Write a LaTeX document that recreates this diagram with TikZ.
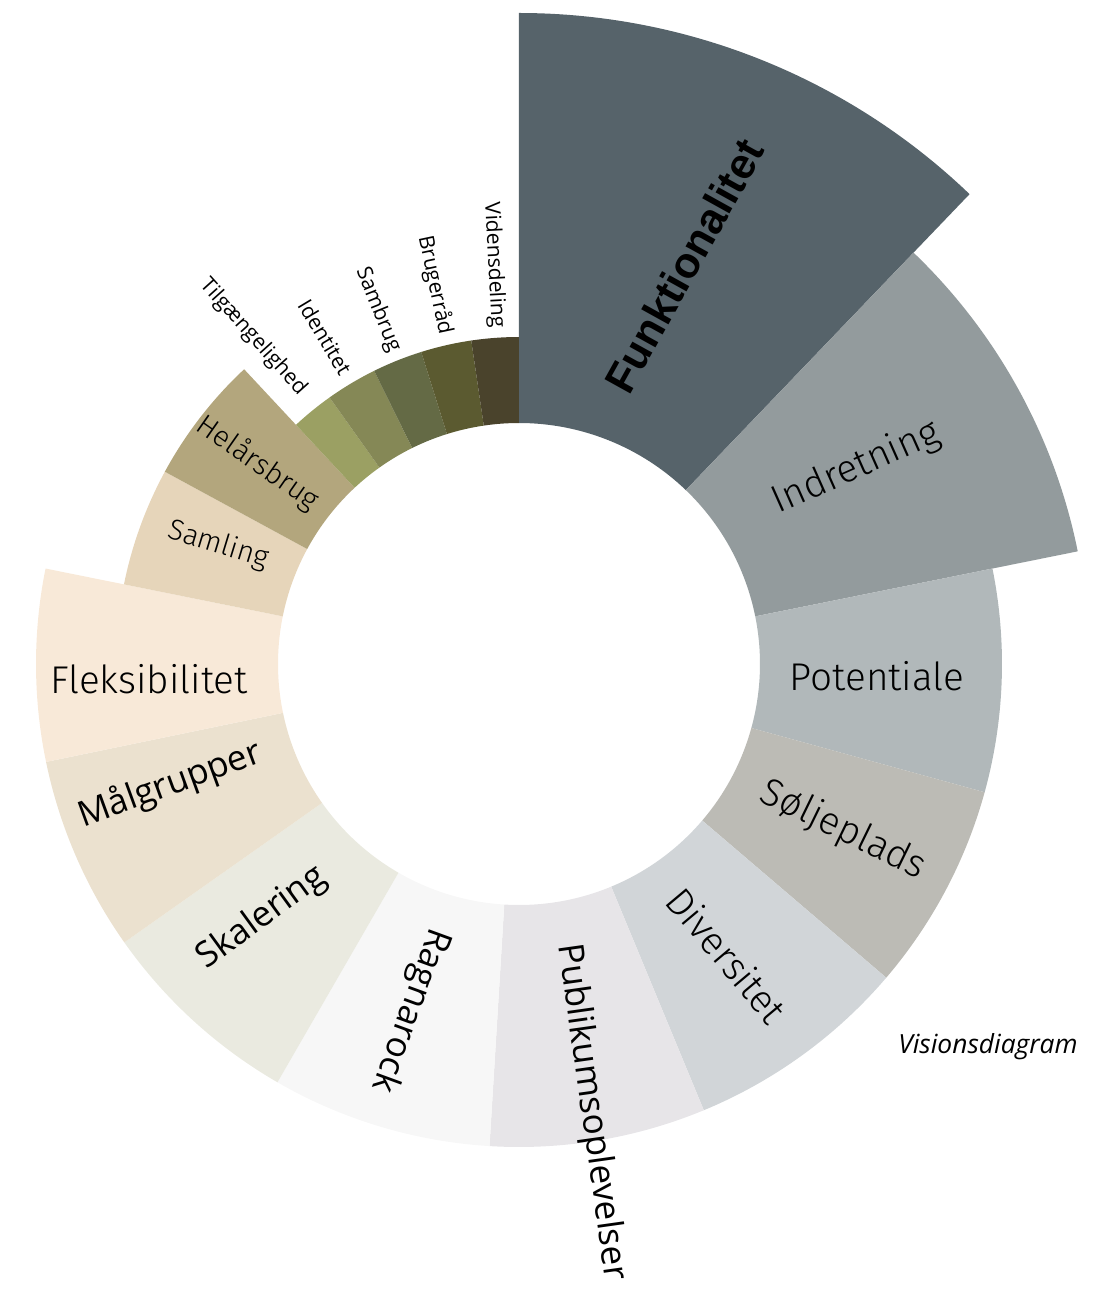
\documentclass[tikz,border=0pt]{standalone}
\usepackage{fontspec}
\usepackage{xcolor}
\usepackage{tikz}
\usetikzlibrary{positioning}

\setmainfont{Fira Sans Light}
\newfontfamily\opensans{Open Sans}
\newfontfamily\arialfont{Liberation Sans}

\definecolor{funkcol}{HTML}{56636A}
\definecolor{indrcol}{HTML}{939B9D}
\definecolor{potecol}{HTML}{B1B8BA}
\definecolor{soljcol}{HTML}{BCBBB5}
\definecolor{divecol}{HTML}{D1D5D8}
\definecolor{publcol}{HTML}{E7E5E8}
\definecolor{ragncol}{HTML}{F7F7F7}
\definecolor{skalcol}{HTML}{EAEAE0}
\definecolor{maalcol}{HTML}{EBE1CF}
\definecolor{flekcol}{HTML}{F8E9D8}
\definecolor{samlcol}{HTML}{E6D5BA}
\definecolor{helacol}{HTML}{B3A67D}
\definecolor{tilgcol}{HTML}{9BA063}
\definecolor{idencol}{HTML}{858856}
\definecolor{sambcol}{HTML}{646A45}
\definecolor{brugcol}{HTML}{5B5A30}
\definecolor{videcol}{HTML}{4A432C}

\begin{document}
\begin{tikzpicture}[
    biglabel/.style={font=\fontsize{22}{24}\selectfont},
    midlabel/.style={font=\fontsize{16.5}{18}\selectfont},
    humlabel/.style={font=\opensans\fontsize{20}{22}\selectfont},
    smalllabel/.style={font=\opensans\fontsize{12}{14}\selectfont}
]
        \useasboundingbox (-10.38,-12.58) rectangle (11.62,13.28);

        % segments, clockwise from the top
        \fill[funkcol] (90:4.82) arc[start angle=90, end angle=46.2, radius=4.82] -- (46.2:13.02) arc[start angle=46.2, end angle=90, radius=13.02] -- cycle;
        \fill[indrcol] (46.2:4.82) arc[start angle=46.2, end angle=11.4, radius=4.82] -- (11.4:11.4) arc[start angle=11.4, end angle=46.2, radius=11.4] -- cycle;
        \fill[potecol] (11.4:4.82) arc[start angle=11.4, end angle=-15.4, radius=4.82] -- (-15.4:9.66) arc[start angle=-15.4, end angle=11.4, radius=9.66] -- cycle;
        \fill[soljcol] (-15.4:4.82) arc[start angle=-15.4, end angle=-40.5, radius=4.82] -- (-40.5:9.66) arc[start angle=-40.5, end angle=-15.4, radius=9.66] -- cycle;
        \fill[divecol] (-40.5:4.82) arc[start angle=-40.5, end angle=-67.5, radius=4.82] -- (-67.5:9.66) arc[start angle=-67.5, end angle=-40.5, radius=9.66] -- cycle;
        \fill[publcol] (-67.5:4.82) arc[start angle=-67.5, end angle=-93.5, radius=4.82] -- (-93.5:9.66) arc[start angle=-93.5, end angle=-67.5, radius=9.66] -- cycle;
        \fill[ragncol] (-93.5:4.82) arc[start angle=-93.5, end angle=-120, radius=4.82] -- (-120:9.66) arc[start angle=-120, end angle=-93.5, radius=9.66] -- cycle;
        \fill[skalcol] (-120:4.82) arc[start angle=-120, end angle=-144.8, radius=4.82] -- (-144.8:9.66) arc[start angle=-144.8, end angle=-120, radius=9.66] -- cycle;
        \fill[maalcol] (-144.8:4.82) arc[start angle=-144.8, end angle=-168.3, radius=4.82] -- (-168.3:9.66) arc[start angle=-168.3, end angle=-144.8, radius=9.66] -- cycle;
        \fill[flekcol] (-168.3:4.82) arc[start angle=-168.3, end angle=-191.4, radius=4.82] -- (-191.4:9.66) arc[start angle=-191.4, end angle=-168.3, radius=9.66] -- cycle;
        \fill[samlcol] (-191.4:4.82) arc[start angle=-191.4, end angle=-208.5, radius=4.82] -- (-208.5:8.06) arc[start angle=-208.5, end angle=-191.4, radius=8.06] -- cycle;
        \fill[helacol] (-208.5:4.82) arc[start angle=-208.5, end angle=-227, radius=4.82] -- (-227:8.06) arc[start angle=-227, end angle=-208.5, radius=8.06] -- cycle;
        \fill[tilgcol] (-227:4.82) arc[start angle=-227, end angle=-234.6, radius=4.82] -- (-234.6:6.54) arc[start angle=-234.6, end angle=-227, radius=6.54] -- cycle;
        \fill[idencol] (-234.6:4.82) arc[start angle=-234.6, end angle=-243.7, radius=4.82] -- (-243.7:6.54) arc[start angle=-243.7, end angle=-234.6, radius=6.54] -- cycle;
        \fill[sambcol] (-243.7:4.82) arc[start angle=-243.7, end angle=-252.6, radius=4.82] -- (-252.6:6.54) arc[start angle=-252.6, end angle=-243.7, radius=6.54] -- cycle;
        \fill[brugcol] (-252.6:4.82) arc[start angle=-252.6, end angle=-261.6, radius=4.82] -- (-261.6:6.54) arc[start angle=-261.6, end angle=-252.6, radius=6.54] -- cycle;
        \fill[videcol] (-261.6:4.82) arc[start angle=-261.6, end angle=-270, radius=4.82] -- (-270:6.54) arc[start angle=-270, end angle=-261.6, radius=6.54] -- cycle;

        % labels
        \node (funk) at (3.30,7.96) [rotate=61, font=\arialfont\bfseries\fontsize{24.5}{26}\selectfont] {Funktionalitet};
        \node (indr) at (6.74,3.92) [biglabel, rotate=24] {Indretning};
        \node (pote) at (7.16,-0.24) [biglabel] {Potentiale};
        \node (solj) at (6.48,-3.32) [biglabel, rotate=-26] {Søljeplads};
        \node (dive) at (4.16,-5.82) [biglabel, rotate=-50] {Diversitet};
        \node (publ) at (1.44,-8.96) [humlabel, rotate=-82] {Publikumsoplevelser};
        \node (ragn) at (-2.18,-6.92) [humlabel, rotate=-110] {Ragnarock};
        \node (skal) at (-5.14,-5.08) [humlabel, rotate=36] {Skalering};
        \node (maal) at (-6.98,-2.42) [humlabel, rotate=20] {Målgrupper};
        \node (flek) at (-7.40,-0.30) [biglabel] {Fleksibilitet};
        \node (saml) at (-6.02,2.38) [midlabel, rotate=-17] {Samling};
        \node (hela) at (-5.22,4.02) [midlabel, rotate=-35] {Helårsbrug};
        \node (tilg) at (-5.32,6.54) [smalllabel, rotate=-48] {Tilgængelighed};
        \node (iden) at (-3.88,6.54) [smalllabel, rotate=-59] {Identitet};
        \node (samb) at (-2.82,7.08) [smalllabel, rotate=-68] {Sambrug};
        \node (brug) at (-1.68,7.58) [smalllabel, rotate=-78] {Brugerråd};
        \node (vide) at (-0.50,7.98) [smalllabel, rotate=-87] {Vidensdeling};

        \node (visi) at (9.38,-7.66) [font=\opensans\itshape\fontsize{15}{17}\selectfont] {Visionsdiagram};
    \end{tikzpicture}
\end{document}
